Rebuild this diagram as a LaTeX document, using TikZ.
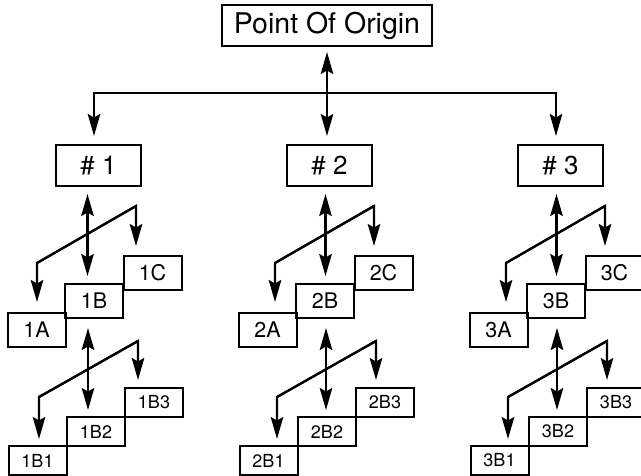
\documentclass[tikz,border=0pt]{standalone}
\usepackage{fontspec}
\setmainfont{TeX Gyre Heros}
\usetikzlibrary{arrows.meta}
\begin{document}
\begin{tikzpicture}[x=1pt,y=-1pt,
  boxbase/.style={draw,line width=2pt,inner sep=0pt},
  origbox/.style={boxbase,minimum width=210pt,minimum height=41pt,font=\fontsize{28.5}{30}\selectfont},
  headbox/.style={boxbase,minimum width=85pt,minimum height=41pt,font=\fontsize{26}{28}\selectfont},
  subbox/.style={boxbase,minimum width=58pt,minimum height=34pt,font=\fontsize{21.5}{23}\selectfont},
  leafbox/.style={boxbase,minimum width=58pt,minimum height=29pt,font=\fontsize{18}{20}\selectfont},
  link/.style={line width=2.2pt},
  onetip/.style={link,-{Stealth[length=22pt,width=12.5pt,inset=3.5pt]}},
  twotip/.style={link,{Stealth[length=22pt,width=12.5pt,inset=3.5pt]}-{Stealth[length=22pt,width=12.5pt,inset=3.5pt]}}]

\useasboundingbox (0,0) rectangle (641,476);

% root
\node[origbox] (origin) at (327,25.5) {Point Of Origin};

% bus corners
\coordinate (busL) at (94,93);
\coordinate (busR) at (556,93);

% columns: index / box left / arrow reference
\foreach \i/\H/\A in {1/56/49, 2/287/287, 3/518/518} {
  \node[headbox] (n\i) at (\H+42.5,165.5) {\# \i};
  \node[subbox] (n\i-a) at (\H-19.5,330) {\i A};
  \node[subbox] (n\i-b) at (\H+38,301) {\i B};
  \node[subbox] (n\i-c) at (\H+96.5,273) {\i C};
  \node[leafbox] (n\i-b1) at (\H-18.5,460.5) {\i B1};
  \node[leafbox] (n\i-b2) at (\H+40,431.5) {\i B2};
  \node[leafbox] (n\i-b3) at (\H+98,402.5) {\i B3};

  % upper level
  \coordinate (u\i) at (\A+38.5,0);
  \coordinate (ul\i) at (\A-12,263);
  \coordinate (ur\i) at (\A+87,206);
  \draw[twotip,shorten <=7pt,shorten >=7pt] (n\i.south -| u\i) -- (n\i-b.north -| u\i);
  \draw[onetip,shorten >=9pt] (ul\i) -- (ur\i) -- (ur\i |- n\i-c.north);
  \draw[onetip,shorten >=10pt] (ur\i) -- (ul\i) -- (ul\i |- n\i-a.north);

  % lower level
  \coordinate (l\i) at (\A+39,0);
  \coordinate (ll\i) at (\A-10,397);
  \coordinate (lr\i) at (\A+89,341);
  \draw[twotip,shorten <=9pt,shorten >=6pt] (n\i-b.south -| l\i) -- (n\i-b2.north -| l\i);
  \draw[onetip,shorten >=7pt] (ll\i) -- (lr\i) -- (lr\i |- n\i-b3.north);
  \draw[onetip,shorten >=6pt] (lr\i) -- (ll\i) -- (ll\i |- n\i-b1.north);
}

% root connectors
\draw[twotip,shorten <=5pt,shorten >=8pt] (origin.south) -- (origin.south |- n2.north);
\draw[onetip,shorten >=8pt] (origin.south |- busL) -- (busL) -- (busL |- n1.north);
\draw[onetip,shorten >=8pt] (origin.south |- busR) -- (busR) -- (busR |- n3.north);
\end{tikzpicture}
\end{document}
